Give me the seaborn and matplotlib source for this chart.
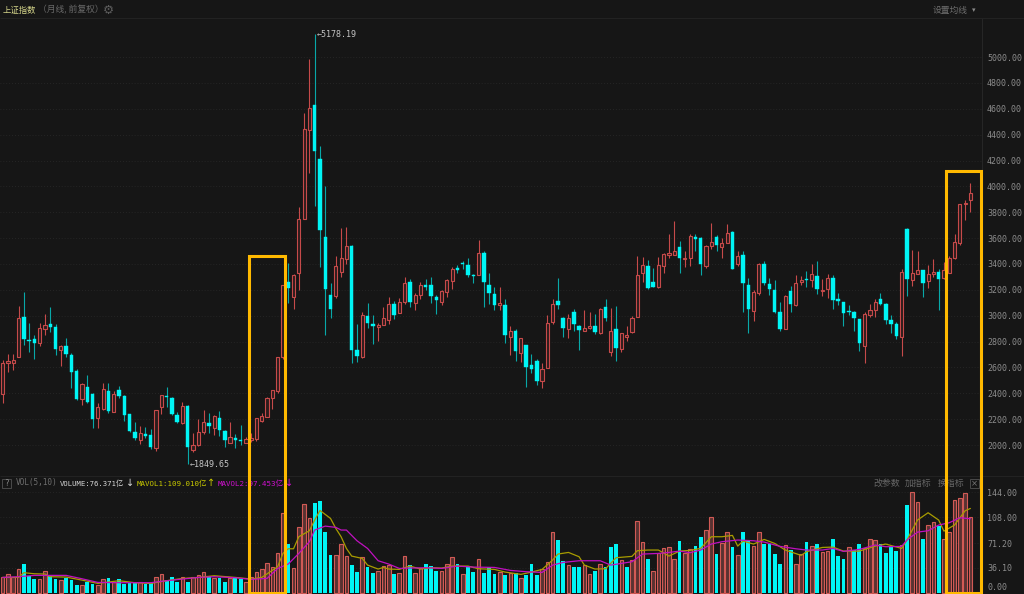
import matplotlib
matplotlib.use('Agg')
import pandas as pd
import seaborn as sns
import matplotlib.pyplot as plt
from matplotlib.patches import Rectangle

# monthly candles, 上证指数
highs = [2657, 2704, 2704, 3075, 3186, 2941, 2851, 2946, 3013, 3070,
         2933, 2773, 2830, 2714, 2588, 2477, 2539, 2400, 2322, 2477,
         2480, 2418, 2456, 2387, 2240, 2178, 2147, 2139, 2124, 2271,
         2387, 2446, 2369, 2258, 2335, 2309, 2096, 2199, 2271, 2245,
         2232, 2263, 2116, 2175, 2083, 2152, 2059, 2090, 2206, 2250,
         2369, 2425, 2683, 3237, 3407, 3322, 3840, 4567, 4985, 5178.19,
         4312, 4003, 3253, 3462, 3678, 3686, 3547, 2936, 3029, 3098,
         3005, 2944, 3067, 3145, 3114, 3137, 3299, 3284, 3176, 3261,
         3284, 3299, 3160, 3199, 3284, 3377, 3392, 3423, 3446, 3322,
         3585, 3500, 3330, 3222, 3222, 3129, 2920, 2897, 2828, 2773,
         2704, 2665, 2634, 3008, 3129, 3291, 2990, 3013, 3052, 2928,
         3044, 3029, 3013, 3060, 3129, 3060, 3075, 2863, 2920, 2995,
         3459, 3456, 3428, 3371, 3456, 3482, 3631, 3732, 3580, 3497,
         3631, 3629, 3606, 3546, 3719, 3624, 3598, 3709, 3655, 3497,
         3503, 3289, 3198, 3405, 3425, 3294, 3278, 3103, 3157, 3229,
         3312, 3309, 3343, 3397, 3420, 3281, 3320, 3314, 3173, 3106,
         3082, 3036, 2977, 3031, 3090, 3126, 3173, 3095, 3003, 2948,
         3358, 3675, 3508, 3497, 3353, 3389, 3438, 3358, 3415, 3464,
         3631, 3864, 3895, 4026]
body_tops = [2637, 2650, 2655, 2980, 2987, 2809, 2822, 2902, 2925, 2933,
             2910, 2763, 2768, 2699, 2572, 2469, 2451, 2392, 2291, 2431,
             2418, 2397, 2423, 2376, 2240, 2101, 2090, 2085, 2075, 2271,
             2387, 2379, 2364, 2232, 2304, 2304, 1998, 2098, 2175, 2173,
             2224, 2206, 2111, 2059, 2052, 2036, 2044, 2052, 2206, 2224,
             2364, 2423, 2681, 3237, 3261, 3315, 3748, 4444, 4606, 4629,
             4212, 3608, 3160, 3384, 3446, 3539, 3539, 2735, 3005, 2998,
             2936, 2928, 2982, 3091, 3091, 3106, 3253, 3261, 3160, 3237,
             3237, 3237, 3145, 3191, 3276, 3361, 3369, 3407, 3392, 3315,
             3485, 3485, 3237, 3168, 3098, 3083, 2882, 2882, 2828, 2773,
             2619, 2650, 2588, 2944, 3091, 3114, 2982, 2982, 3029, 2920,
             2905, 2920, 2920, 3052, 3067, 2882, 2897, 2863, 2848, 2985,
             3312, 3392, 3387, 3260, 3392, 3474, 3482, 3503, 3528, 3446,
             3619, 3606, 3601, 3541, 3567, 3606, 3559, 3637, 3649, 3464,
             3469, 3234, 3183, 3397, 3399, 3245, 3196, 3026, 3149, 3191,
             3255, 3278, 3281, 3320, 3307, 3198, 3289, 3289, 3126, 3103,
             3036, 3028, 2972, 3015, 3041, 3103, 3131, 3088, 2966, 2938,
             3338, 3673, 3327, 3350, 3350, 3320, 3335, 3338, 3350, 3443,
             3572, 3864, 3871, 3949]
body_bots = [2392, 2637, 2637, 2678, 2820, 2804, 2791, 2791, 2900, 2913,
             2745, 2735, 2704, 2567, 2356, 2358, 2335, 2204, 2212, 2281,
             2266, 2258, 2379, 2230, 2108, 2054, 2041, 2070, 1982, 1980,
             2291, 2374, 2240, 2178, 2168, 1982, 1962, 1998, 2101, 2147,
             2134, 2119, 2036, 2018, 2039, 2034, 2018, 2036, 2049, 2188,
             2219, 2366, 2418, 2683, 3214, 3145, 3330, 3748, 4436, 4273,
             3663, 3206, 3052, 3152, 3338, 3438, 2735, 2688, 2681, 2944,
             2920, 2913, 2928, 2967, 3005, 3021, 3106, 3106, 3098, 3160,
             3222, 3152, 3121, 3106, 3183, 3268, 3353, 3400, 3315, 3307,
             3315, 3261, 3176, 3083, 3083, 2851, 2835, 2727, 2712, 2603,
             2588, 2495, 2495, 2596, 2951, 3083, 2905, 2897, 2936, 2889,
             2882, 2905, 2874, 2866, 2982, 2719, 2750, 2745, 2832, 2871,
             2992, 3327, 3216, 3224, 3222, 3387, 3472, 3472, 3443, 3441,
             3443, 3593, 3399, 3384, 3539, 3546, 3528, 3559, 3361, 3402,
             3253, 3052, 3039, 3175, 3253, 3204, 3028, 2894, 2897, 3093,
             3082, 3258, 3273, 3273, 3206, 3191, 3204, 3124, 3111, 3021,
             3031, 2979, 2791, 2768, 3008, 3046, 3088, 2966, 2938, 2845,
             2832, 3281, 3273, 3325, 3253, 3271, 3325, 3281, 3289, 3332,
             3443, 3562, 3864, 3895]
lows = [2322, 2567, 2580, 2678, 2773, 2722, 2668, 2766, 2851, 2876,
        2693, 2614, 2678, 2441, 2348, 2309, 2322, 2134, 2134, 2271,
        2245, 2258, 2364, 2188, 2103, 2036, 2005, 2052, 1967, 1956,
        2240, 2297, 2232, 2168, 2163, 1849.65, 1949, 1992, 2083, 2096,
        2077, 2072, 1987, 2018, 1980, 2000, 2013, 2026, 2034, 2181,
        2219, 2281, 2405, 2668, 3098, 3052, 3199, 3748, 4103, 3848,
        3377, 2851, 2982, 3137, 3299, 3400, 2634, 2642, 2673, 2905,
        2781, 2804, 2928, 2936, 2974, 3021, 3091, 3067, 3044, 3129,
        3199, 3098, 3013, 3083, 3145, 3206, 3330, 3361, 3299, 3253,
        3315, 3067, 3091, 3044, 3044, 2789, 2696, 2650, 2642, 2449,
        2557, 2464, 2441, 2596, 2936, 3052, 2835, 2828, 2882, 2735,
        2882, 2897, 2859, 2859, 2959, 2688, 2650, 2719, 2802, 2866,
        2992, 3263, 3204, 3222, 3216, 3327, 3448, 3469, 3327, 3374,
        3384, 3503, 3312, 3366, 3515, 3503, 3448, 3559, 3358, 3387,
        3031, 2863, 2961, 3160, 3234, 3157, 3023, 2884, 2897, 3031,
        3077, 3237, 3219, 3224, 3167, 3152, 3134, 3052, 3082, 2923,
        3005, 2884, 2724, 2637, 2987, 2992, 3082, 2936, 2869, 2817,
        2691, 3152, 3229, 3322, 3142, 3216, 3301, 3046, 3283, 3332,
        3438, 3547, 3740, 3802]
candle_dirs = list("RRRRCCCRRC" "CRCCCRCCRR" "CRCCCCRCCR" "RCCCRCRRRC" "RCCRCCRRRR"
                   "RRRRCRRRRC" "CCCRRRCCRC" "CRRRCRRCRR" "CCCRRRCCCC" "RCCCRCRCRC"
                   "CCRRRCCRCC" "RRCRCRCRRR" "RRCCRRRRCR" "RCCRRCRRCR" "CCRRCCCCRC"
                   "RRCRCRRCCC" "CCCRRRCCCC" "RCRRCRRCRR" "RRRR")

volumes = [22.7, 27.0, 22.7, 34.1, 41.2, 25.1, 20.4, 20.4, 32.2, 24.6,
           19.9, 18.9, 22.3, 18.5, 12.3, 11.8, 16.1, 12.8, 11.8, 20.4,
           21.3, 16.6, 20.4, 13.3, 14.2, 15.2, 15.6, 13.7, 14.2, 22.7,
           27.5, 18.9, 23.7, 15.6, 22.7, 16.6, 22.7, 25.6, 29.8, 24.1,
           22.3, 21.3, 16.6, 22.3, 22.7, 20.8, 15.6, 22.7, 29.8, 34.6,
           42.6, 37.4, 56.8, 113.6, 70.1, 35.5, 94.7, 126.4, 106.5, 128.8,
           131.6, 87.1, 54.5, 54.9, 70.1, 53.5, 40.2, 30.3, 51.1, 37.9,
           29.4, 32.2, 39.3, 39.8, 27.9, 28.4, 52.6, 39.8, 28.4, 36.0,
           41.2, 38.4, 32.2, 31.7, 42.1, 51.1, 42.1, 27.0, 39.3, 30.3,
           48.3, 29.4, 36.9, 27.5, 29.8, 26.0, 28.4, 28.4, 22.3, 26.0,
           41.2, 26.0, 34.1, 44.0, 87.6, 75.3, 45.5, 39.8, 37.4, 37.4,
           40.7, 27.0, 31.3, 41.2, 37.9, 65.3, 70.1, 46.9, 37.4, 46.9,
           102.3, 73.4, 49.2, 31.3, 56.8, 63.9, 66.3, 48.3, 74.3, 56.8,
           62.5, 67.2, 79.5, 89.5, 108.0, 56.3, 71.0, 86.7, 66.3, 54.0,
           87.6, 74.8, 66.8, 87.6, 69.6, 70.6, 55.4, 41.2, 69.1, 61.1,
           41.2, 55.9, 72.4, 66.8, 70.1, 58.7, 59.7, 77.7, 53.0, 49.2,
           65.3, 61.6, 69.6, 64.9, 77.2, 76.2, 70.1, 57.3, 65.8, 60.1,
           69.1, 126.0, 143.5, 129.3, 76.7, 97.5, 100.9, 95.6, 77.2, 86.7,
           132.6, 135.4, 143.0, 108.0]
vol_dirs = list("RRRRCCCRRC" "CRCCCRCCRR" "CRCCCCRCCR" "RCCCRCRRRC" "RCCRCCRRRR"
                "RRRRCRRRRC" "CCCRRRCCRC" "CRRRCRRCRR" "CCCRRRCRCC" "RCCCRCRCRC"
                "CCRRRCCRCC" "RRCRCCCRCR" "RRCRRRRRCR" "RCCRRCRRCR" "CCRRCCCCRC"
                "RRCRCRRCCC" "RCCRRRCCCC" "RCRRCRRCRR" "RRRR")

mavol1_idx = [0, 3, 4, 6, 8, 9, 12, 15, 18, 22, 25, 28, 31, 34, 37, 40, 44, 47, 49, 52,
              53, 54, 55, 56, 58, 59, 60, 62, 63, 64, 65, 66, 68, 69, 71, 72, 73, 75, 77, 79,
              81, 83, 85, 88, 90, 93, 95, 98, 100, 102, 104, 105, 107, 109, 110, 112, 114, 116, 119, 120,
              122, 124, 126, 128, 130, 132, 134, 136, 138, 139, 140, 142, 144, 146, 148, 151, 152, 155, 157, 159,
              162, 165, 167, 170, 171, 173, 175, 177, 178, 180, 182, 183]
mavol1 = [22.7, 22.7, 29.4, 27.9, 27.5, 23.7, 23.2, 18.9, 14.2, 18.0, 15.2, 14.2, 18.0, 21.3, 22.7, 25.1, 22.7, 20.4, 22.7, 37.9,
          56.8, 63.4, 63.4, 80.5, 89.0, 104.2, 117.9, 106.5, 92.3, 80.5, 63.9, 53.0, 49.7, 40.2, 34.6, 36.9, 34.6, 34.1, 38.8, 34.6,
          36.5, 36.0, 38.8, 38.8, 35.0, 34.1, 30.3, 27.0, 30.3, 34.1, 47.4, 55.9, 58.2, 52.1, 40.2, 34.6, 35.0, 50.7, 52.6, 60.6,
          61.6, 61.6, 53.0, 60.1, 61.1, 63.9, 80.5, 80.5, 82.4, 67.2, 74.3, 70.1, 76.7, 71.0, 61.6, 54.0, 59.2, 65.3, 65.8, 60.1,
          60.1, 67.2, 70.1, 63.9, 75.8, 104.2, 114.6, 104.2, 88.5, 97.1, 117.4, 120.7]
mavol2_idx = [0, 3, 6, 9, 12, 15, 18, 22, 25, 28, 31, 34, 37, 40, 44, 47, 50, 52, 54, 56,
              58, 59, 61, 63, 64, 65, 67, 69, 71, 73, 75, 77, 80, 83, 86, 89, 93, 96, 99, 102,
              104, 106, 109, 113, 115, 117, 119, 121, 124, 126, 128, 130, 132, 134, 136, 139, 142, 144, 147, 150,
              152, 155, 157, 159, 162, 165, 167, 170, 171, 173, 175, 177, 179, 181, 183]
mavol2 = [22.7, 23.7, 25.6, 25.6, 25.6, 20.8, 15.6, 15.2, 15.2, 15.2, 18.0, 20.4, 22.7, 23.7, 22.3, 19.9, 21.3, 35.5, 41.7, 56.8,
          73.4, 90.0, 95.6, 93.8, 90.0, 90.0, 74.8, 63.9, 46.4, 41.7, 35.5, 36.0, 36.5, 35.5, 38.8, 37.4, 36.9, 32.7, 30.8, 29.8,
          40.2, 44.0, 46.4, 46.4, 40.2, 42.6, 45.0, 55.9, 56.8, 58.2, 60.1, 57.8, 61.6, 70.1, 73.4, 75.8, 74.8, 72.9, 66.8, 63.4,
          61.6, 61.6, 63.9, 59.7, 62.5, 68.7, 66.3, 66.8, 75.8, 87.1, 89.0, 97.1, 100.4, 107.5, 106.1]

price_ticks = [2000, 2200, 2400, 2600, 2800, 3000, 3200, 3400, 3600, 3800, 4000, 4200, 4400, 4600, 4800, 5000]
vol_ticks = [36.1, 71.2, 108, 144]

BG = '#161616'
RED = '#c64a4a'
CYAN = '#00f5f5'
GRID = '#2a2a2a'
MONO = 'DejaVu Sans Mono'

sns.set_theme(style='dark', rc={'figure.facecolor': BG, 'axes.facecolor': BG, 'savefig.facecolor': BG})
plt.rcParams['font.family'] = ['Noto Sans CJK SC', 'DejaVu Sans']

candles = pd.DataFrame({'idx': range(len(highs)), 'high': highs, 'low': lows, 'top': body_tops,
                        'bot': body_bots, 'dir': candle_dirs})
vol_df = pd.DataFrame({'idx': range(len(volumes)), 'vol': volumes, 'dir': vol_dirs})
up = candles[candles['dir'] == 'R']
down = candles[candles['dir'] == 'C']

W, H = 1024, 594
fig = plt.figure(figsize=(W / 100, H / 100), dpi=100)
ax = fig.add_axes([0, (H - 475.5) / H, 981.5 / W, (475.5 - 18) / H])
ax_vol = fig.add_axes([0, 0, 981.5 / W, 118 / H])

# candles
ax.vlines(up['idx'], up['low'], up['high'], color=RED, lw=0.8, zorder=2)
ax.vlines(down['idx'], down['low'], down['high'], color='#08a8a8', lw=0.8, zorder=2)
ax.bar(up['idx'], up['top'] - up['bot'], bottom=up['bot'], width=0.6,
       facecolor='#2c1c1c', edgecolor=RED, linewidth=0.8, zorder=3)
ax.bar(down['idx'], down['top'] - down['bot'], bottom=down['bot'], width=0.66,
       facecolor=CYAN, edgecolor=CYAN, linewidth=0.3, zorder=3)
ax.annotate('←5178.19', xy=(59, 5178.19), xytext=(1.5, 0), textcoords='offset points',
            va='center', fontsize=6, family=MONO, color='#c4c4c4')
ax.annotate('←1849.65', xy=(35, 1849.65), xytext=(1.5, 0), textcoords='offset points',
            va='center', fontsize=6, family=MONO, color='#c4c4c4')
ax.set_xlim(-0.505, 185.1)
ax.set_ylim(1764.5, 5302)
ax.set_yticks(price_ticks)
ax.set_yticklabels([f'{p:.2f}' for p in price_ticks])

# volume
sns.barplot(data=vol_df[vol_df['dir'] == 'R'], x='idx', y='vol', native_scale=True, errorbar=None,
            color='#583232', saturation=1, width=0.68, edgecolor='#d25a55', linewidth=0.8, ax=ax_vol, zorder=2)
sns.barplot(data=vol_df[vol_df['dir'] == 'C'], x='idx', y='vol', native_scale=True, errorbar=None,
            color=CYAN, saturation=1, width=0.72, linewidth=0, ax=ax_vol, zorder=2)
sns.lineplot(x=mavol1_idx, y=mavol1, color='#a89c00', lw=0.9, ax=ax_vol, zorder=3)
sns.lineplot(x=mavol2_idx, y=mavol2, color='#c010c0', lw=0.9, ax=ax_vol, zorder=3)
ax_vol.set_xlim(-0.505, 185.1)
ax_vol.set_ylim(-0.85, 166.8)
ax_vol.set_yticks(vol_ticks)
ax_vol.set_yticklabels(['36.10', '71.20', '108.00', '144.00'])

for a in (ax, ax_vol):
    a.set_xlabel('')
    a.set_ylabel('')
    a.set_xticks([])
    a.yaxis.tick_right()
    a.tick_params(axis='y', length=0, pad=4, labelsize=6, labelcolor='#8c8c8c')
    for lab in a.get_yticklabels():
        lab.set_family(MONO)
    a.grid(axis='y', color=GRID, lw=0.6, ls=(0, (1, 2.5)))
    a.set_axisbelow(True)
    for s in a.spines.values():
        s.set_visible(False)
    a.spines['right'].set_visible(True)
    a.spines['right'].set_color('#262626')
    a.spines['right'].set_linewidth(0.8)

# overlay in screen pixels: header text, separators, highlight boxes
top = fig.add_axes([0, 0, 1, 1], zorder=10)
top.set_xlim(0, W)
top.set_ylim(H, 0)
top.axis('off')
top.patch.set_alpha(0)
top.hlines([17.5, 475.5], 0, W, color='#222222', lw=0.8)

top.text(3, 10, '上证指数', fontsize=6, color='#d8d88c', va='center')
top.text(38, 10, '（月线, 前复权）', fontsize=6.3, color='#6a6a6a', va='center')
top.text(108, 10, '⚙', fontsize=9, color='#5c5c5c', va='center', ha='center', family='DejaVu Sans')
top.text(933, 10, '设置均线', fontsize=6.3, color='#6e6e6e', va='center')
top.text(972, 10, '▾', fontsize=5, color='#8a8a8a', va='center', family='DejaVu Sans')
top.text(987, 587, '0.00', fontsize=6, color='#8c8c8c', va='center', family=MONO)

top.add_patch(Rectangle((1.5, 479), 9, 8.5, fill=False, ec='#4a4a4a', lw=0.7))
top.text(6, 483.3, '?', fontsize=5.5, color='#8a8a8a', ha='center', va='center', family=MONO)
top.text(16, 483, 'VOL(5,10)', fontsize=5.6, color='#6e6e6e', va='center', family=MONO)
top.text(60, 483, 'VOLUME:76.371亿', fontsize=5.2, color='#d8d8d8', va='center', family=[MONO, 'Noto Sans CJK SC'])
top.text(130.5, 483, '↓', fontsize=7, color='#d8d8d8', va='center', ha='center', family='DejaVu Sans')
top.text(137, 483, 'MAVOL1:109.010亿', fontsize=5.4, color='#c8c800', va='center', family=[MONO, 'Noto Sans CJK SC'])
top.text(211.5, 483, '↑', fontsize=7, color='#c8c800', va='center', ha='center', family='DejaVu Sans')
top.text(218, 483, 'MAVOL2:97.453亿', fontsize=5.4, color='#d010d0', va='center', family=[MONO, 'Noto Sans CJK SC'])
top.text(289.5, 483, '↓', fontsize=7, color='#d010d0', va='center', ha='center', family='DejaVu Sans')
top.text(873, 483.5, '改参数', fontsize=6.4, color='#666666', va='center')
top.text(905, 483.5, '加指标', fontsize=6.4, color='#666666', va='center')
top.text(938, 483.5, '换指标', fontsize=6.4, color='#666666', va='center')
top.add_patch(Rectangle((970, 479), 9, 9, fill=False, ec='#4a4a4a', lw=0.7))
top.text(974.5, 483.5, '×', fontsize=6, color='#777777', ha='center', va='center', family='DejaVu Sans')

top.add_patch(Rectangle((249, 255.5), 35.5, 337, fill=False, ec='#ffb900', lw=2.2, zorder=5))
top.add_patch(Rectangle((946, 171.3), 34.8, 421.2, fill=False, ec='#ffb900', lw=2.2, zorder=5))

fig.savefig('out.png', dpi=100)
